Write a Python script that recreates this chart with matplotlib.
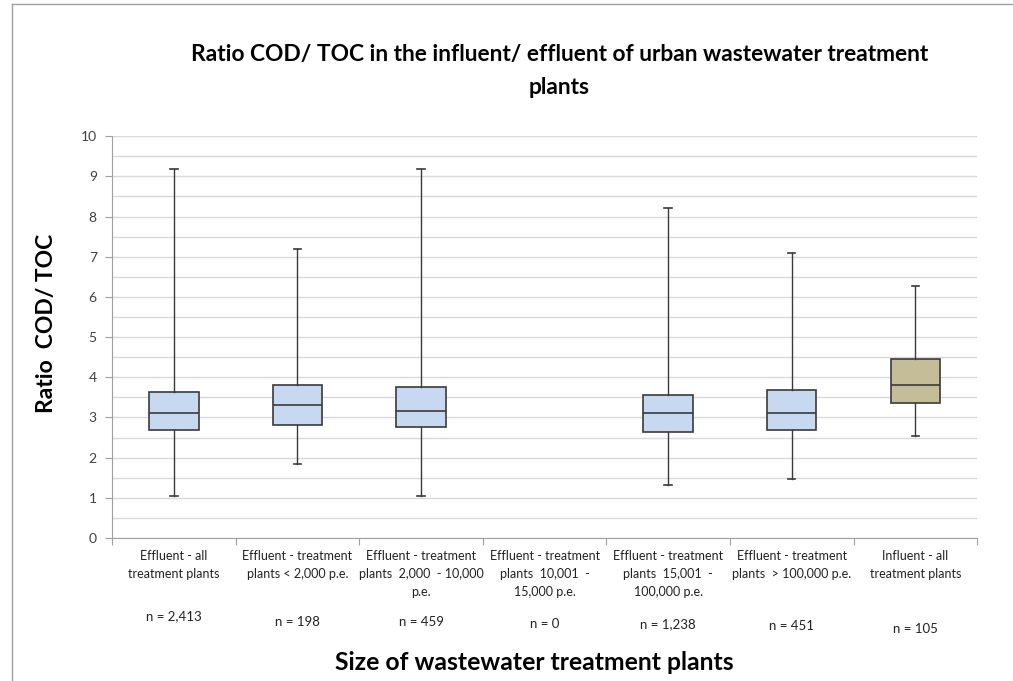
import matplotlib.pyplot as plt
import matplotlib.transforms as mtransforms

plt.rcParams['font.family'] = ['Lato', 'DejaVu Sans']

# data
categories = [
    "Effluent - all\ntreatment plants",
    "Effluent - treatment\nplants < 2,000 p.e.",
    "Effluent - treatment\nplants  2,000  - 10,000\np.e.",
    "Effluent - treatment\nplants  10,001  -\n15,000 p.e.",
    "Effluent - treatment\nplants  15,001  -\n100,000 p.e.",
    "Effluent - treatment\nplants  > 100,000 p.e.",
    "Influent - all\ntreatment plants",
]
n_labels = ["n = 2,413", "n = 198", "n = 459", "n = 0", "n = 1,238", "n = 451", "n = 105"]
whisker_low = [1.05, 1.85, 1.05, None, 1.32, 1.48, 2.55]
q1 = [2.70, 2.80, 2.75, None, 2.63, 2.68, 3.37]
median = [3.12, 3.30, 3.17, None, 3.10, 3.10, 3.82]
q3 = [3.63, 3.80, 3.77, None, 3.55, 3.68, 4.45]
whisker_high = [9.18, 7.20, 9.18, None, 8.22, 7.10, 6.27]

box_colors = ['#c6d9f1'] * 6 + ['#c4bd97']
n_label_offsets = [0, 6, 6, 8, 8, 10, 13]  # small vertical jitter seen in the original

fig = plt.figure(figsize=(10.13, 6.81), dpi=100)
ax = fig.add_axes([0.1106, 0.21, 0.854, 0.59])

stats = []
positions = []
colors = []
for i in range(len(categories)):
    if median[i] is None:
        continue
    stats.append(dict(whislo=whisker_low[i], q1=q1[i], med=median[i],
                      q3=q3[i], whishi=whisker_high[i], fliers=[]))
    positions.append(i + 1)
    colors.append(box_colors[i])

bp = ax.bxp(stats, positions=positions, widths=0.4, patch_artist=True,
            showfliers=False,
            boxprops=dict(edgecolor='#3a3a3a', linewidth=1.2),
            medianprops=dict(color='#3a3a3a', linewidth=1.2),
            whiskerprops=dict(color='#3a3a3a', linewidth=1.0),
            capprops=dict(color='#3a3a3a', linewidth=1.2),
            capwidths=0.06, zorder=3)
for patch, c in zip(bp['boxes'], colors):
    patch.set_facecolor(c)

ax.set_xlim(0.5, len(categories) + 0.5)
ax.set_ylim(0, 10)
ax.set_yticks(range(0, 11))
ax.set_yticks([k + 0.5 for k in range(10)], minor=True)
ax.grid(axis='y', which='both', color='#d9d9d9', linewidth=1.0, zorder=0)
ax.set_axisbelow(True)

# category separators as ticks, labels centred between them
ax.set_xticks([k + 0.5 for k in range(len(categories) + 1)])
ax.set_xticklabels([])
ax.set_xticks(range(1, len(categories) + 1), minor=True)
ax.set_xticklabels(categories, minor=True, fontsize=9, color='#222222',
                   linespacing=1.6)
ax.tick_params(axis='x', which='major', length=5, color='#a0a0a0', direction='out')
ax.tick_params(axis='x', which='minor', length=0, pad=9)
ax.tick_params(axis='y', which='major', length=5, color='#a0a0a0', labelsize=10,
               labelcolor='#404040', pad=6)
ax.tick_params(axis='y', which='minor', length=0)

for s in ['top', 'right']:
    ax.spines[s].set_visible(False)
for s in ['left', 'bottom']:
    ax.spines[s].set_color('#a0a0a0')

trans = mtransforms.blended_transform_factory(ax.transData, fig.transFigure)
for i, lab in enumerate(n_labels):
    ax.text(i + 1, (681 - 616 - n_label_offsets[i]) / 681, lab, transform=trans,
            ha='center', va='center', fontsize=9.5, color='#222222')

fig.text(0.552, (681 - 55) / 681,
         "Ratio COD/ TOC in the influent/ effluent of urban wastewater treatment",
         ha='center', va='center', fontsize=16.4, fontweight='bold')
fig.text(0.552, (681 - 87) / 681, "plants", ha='center', va='center',
         fontsize=16.4, fontweight='bold')
fig.text(0.046, (681 - 323) / 681, "Ratio  COD/ TOC", rotation=90, ha='center',
         va='center', fontsize=16.5, fontweight='bold')
fig.text(0.527, (681 - 662) / 681, "Size of wastewater treatment plants", ha='center',
         va='center', fontsize=17.8, fontweight='bold')

# light outer frame (top and left edge only visible)
fig.add_artist(plt.Line2D([12 / 1013, 12 / 1013], [0, 1 - 4 / 681],
                          transform=fig.transFigure, color='#a0a0a0', linewidth=1))
fig.add_artist(plt.Line2D([12 / 1013, 1], [1 - 4 / 681, 1 - 4 / 681],
                          transform=fig.transFigure, color='#a0a0a0', linewidth=1))

fig.savefig('out.png', dpi=100)
